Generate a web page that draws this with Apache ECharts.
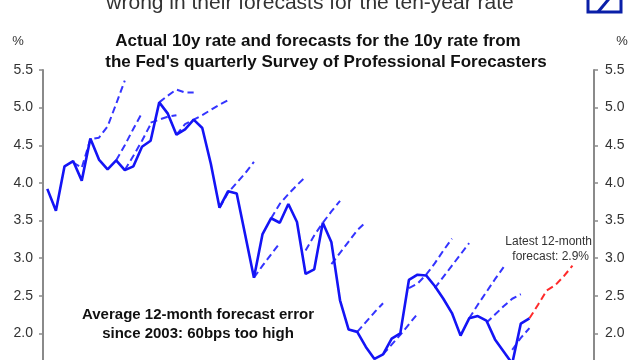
<!DOCTYPE html>
<html>
<head>
<meta charset="utf-8">
<script src="https://cdn.jsdelivr.net/npm/echarts@6/dist/echarts.min.js"></script>
<style>
html,body{margin:0;padding:0;background:#fff;overflow:hidden;width:640px;height:360px;}
#chart{width:640px;height:400px;}
</style>
</head>
<body>
<div id="chart"></div>
<script>
// Quarterly categories 2003Q1 .. 2018Q4
const years = [2003,2004,2005,2006,2007,2008,2009,2010,2011,2012,2013,2014,2015,2016,2017,2018];
const quarters = [];
years.forEach(y => ['Q1','Q2','Q3','Q4'].forEach(q => quarters.push(y + q)));

// Actual 10y rate (%), from 2003Q1
const actual = [3.92,3.63,4.22,4.29,4.03,4.59,4.31,4.18,4.30,4.17,
                4.22,4.48,4.56,5.07,4.92,4.64,4.71,4.84,4.73,4.25,
                3.67,3.89,3.86,3.30,2.74,3.32,3.53,3.47,3.72,3.48,
                2.79,2.85,3.47,3.21,2.44,2.05,2.02,1.82,1.66,1.72,
                1.93,2.00,2.71,2.78,2.77,2.63,2.46,2.27,1.97,2.20,
                2.23,2.17,1.92,1.76,1.60,2.13,2.20];

// SPF forecast paths: start quarter index and forecast values
const fcStarts = [3, 8, 9, 12, 13, 15, 20, 24, 26, 30, 33, 36, 39, 42, 45, 49, 51, 54];
const fcValues = [
  [4.27,4.20,4.58,4.60,4.75,5.05,5.36],
  [4.30,4.50,4.72,4.93],
  [4.17,4.36,4.56,4.78],
  [4.80,4.84,4.88,4.90],
  [5.07,5.16,5.24,5.20,5.20],
  [4.64,4.78,4.84,4.90,4.97,5.04,5.10],
  [3.67,3.87,4.00,4.13,4.28],
  [2.74,2.90,3.05,3.20],
  [3.53,3.72,3.85,3.97,4.08],
  [3.10,3.30,3.47,3.62,3.76],
  [2.92,3.07,3.22,3.37,3.48],
  [2.02,2.15,2.28,2.40],
  [1.72,1.85,1.98,2.12,2.26],
  [2.60,2.66,2.78,2.93,3.10,3.26],
  [2.60,2.75,2.90,3.05,3.20],
  [2.20,2.38,2.55,2.72,2.88],
  [2.14,2.25,2.36,2.46,2.52],
  [1.78,1.94,2.07]
];

// Latest 12-month forecast
const latestStart = 56;
const latestValues = [2.20,2.38,2.57,2.64,2.76,2.90];

const yTicks = [1.5,2.0,2.5,3.0,3.5,4.0,4.5,5.0,5.5];

function pad(start, vals) {
  const arr = new Array(quarters.length).fill(null);
  vals.forEach((v, i) => { arr[start + i] = v; });
  return arr;
}

const series = [];
fcStarts.forEach((s, k) => {
  series.push({
    type: 'line', data: pad(s, fcValues[k]), symbol: 'none', connectNulls: false,
    lineStyle: { color: '#3434ff', width: 2, type: [7, 4] }, z: 2, silent: true
  });
});
series.push({
  type: 'line', data: pad(latestStart, latestValues), symbol: 'none',
  lineStyle: { color: '#ff2a2a', width: 2, type: [7, 4] }, z: 2
});
series.push({
  type: 'line', data: pad(0, actual), symbol: 'none',
  lineStyle: { color: '#1414f5', width: 2.6 }, z: 3
});

const yAxisBase = {
  type: 'value', min: yTicks[0], max: yTicks[yTicks.length - 1], interval: 0.5,
  splitLine: { show: false },
  axisLine: { show: true, lineStyle: { color: '#8a8a8a', width: 2 } },
  axisTick: { show: true, inside: false, length: 4, lineStyle: { color: '#8a8a8a', width: 1.5 } },
  axisLabel: { color: '#333', fontFamily: 'Liberation Sans, Arial', fontSize: 14,
               formatter: v => v.toFixed(1) }
};

const chart = echarts.init(document.getElementById('chart'), null, { renderer: 'canvas', width: 640, height: 400 });
chart.setOption({
  animation: false,
  backgroundColor: '#fff',
  grid: { left: 43, right: 46, top: 70, height: 301, containLabel: false },
  xAxis: {
    type: 'category', data: quarters, boundaryGap: true,
    axisLine: { show: false }, axisTick: { show: false }, axisLabel: { show: false }
  },
  yAxis: [
    Object.assign({}, yAxisBase, { position: 'left', axisLabel: Object.assign({}, yAxisBase.axisLabel, { margin: 10 }) }),
    Object.assign({}, yAxisBase, { position: 'right', axisLabel: Object.assign({}, yAxisBase.axisLabel, { margin: 11 }) })
  ],
  series: series,
  graphic: [
    { type: 'text', x: 310, y: 3, style: { text: 'wrong in their forecasts for the ten-year rate',
      textAlign: 'center', textVerticalAlign: 'middle', font: '21px "Liberation Sans", Arial', fill: '#333' } },
    { type: 'rect', shape: { x: 588, y: -22, width: 33, height: 34 },
      style: { fill: 'none', stroke: '#0a1fa8', lineWidth: 3 } },
    { type: 'line', shape: { x1: 598, y1: 12, x2: 613, y2: -6 },
      style: { stroke: '#0a1fa8', lineWidth: 3 } },
    { type: 'text', x: 18, y: 41, style: { text: '%', textAlign: 'center', textVerticalAlign: 'middle',
      font: '13px "Liberation Sans", Arial', fill: '#333' } },
    { type: 'text', x: 622, y: 41, style: { text: '%', textAlign: 'center', textVerticalAlign: 'middle',
      font: '13px "Liberation Sans", Arial', fill: '#333' } },
    { type: 'text', x: 318, y: 41, style: { text: 'Actual 10y rate and forecasts for the 10y rate from',
      textAlign: 'center', textVerticalAlign: 'middle', font: 'bold 17px "Liberation Sans", Arial', fill: '#111' } },
    { type: 'text', x: 326, y: 62, style: { text: "the Fed's quarterly Survey of Professional Forecasters",
      textAlign: 'center', textVerticalAlign: 'middle', font: 'bold 17px "Liberation Sans", Arial', fill: '#111' } },
    { type: 'text', x: 198, y: 315, style: { text: 'Average 12-month forecast error',
      textAlign: 'center', textVerticalAlign: 'middle', font: 'bold 15px "Liberation Sans", Arial', fill: '#111' } },
    { type: 'text', x: 198, y: 334, style: { text: 'since 2003: 60bps too high',
      textAlign: 'center', textVerticalAlign: 'middle', font: 'bold 15px "Liberation Sans", Arial', fill: '#111' } },
    { type: 'text', x: 592, y: 242, style: { text: 'Latest 12-month',
      textAlign: 'right', textVerticalAlign: 'middle', font: '12px "Liberation Sans", Arial', fill: '#333' } },
    { type: 'text', x: 589, y: 257, style: { text: 'forecast: 2.9%',
      textAlign: 'right', textVerticalAlign: 'middle', font: '12px "Liberation Sans", Arial', fill: '#333' } }
  ]
});
</script>
</body>
</html>
